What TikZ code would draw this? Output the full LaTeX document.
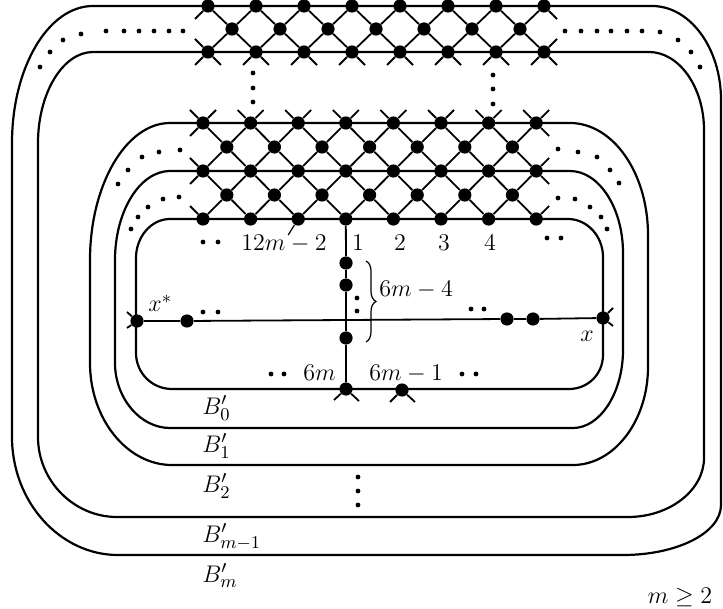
\documentclass[tikz,border=0pt]{standalone}
\usepackage{amsmath,amssymb}
\usepackage{tikz}
\usetikzlibrary{decorations.pathreplacing}

\tikzset{
  vtx/.style={circle,fill=black,inner sep=0pt,minimum size=6.6pt},
  latt/.style={line width=0.9pt},
  band/.style={line width=1.1pt},
  tick/.style={line width=0.6pt},
  lbl/.style={inner sep=0pt,font=\fontsize{12.5}{15}\selectfont},
  curly/.style={decorate,decoration={brace,amplitude=5pt},line width=0.6pt},
}

\begin{document}
\begin{tikzpicture}[x=0.5pt,y=-0.5pt]
\useasboundingbox (0,0) rectangle (723,609);

% the closed curves, innermost first
\draw[band] (170,219) -- (568,219) .. controls (587,219) and (603,236) .. (603,257) -- (603,355) .. controls (603,374) and (588,389) .. (569,389) -- (172,389) .. controls (152,389) and (136,373) .. (136,353) -- (136,258) .. controls (136,237) and (151,219) .. (170,219) -- cycle;
\draw[band] (170,171) -- (570,171) .. controls (599,171) and (623,208) .. (623,253) -- (623,350) .. controls (623,393) and (600,428) .. (573,428) -- (170,428) .. controls (140,428) and (115,398) .. (115,363) -- (115,260) .. controls (115,211) and (140,171) .. (170,171) -- cycle;
\draw[band] (170,123) -- (570,123) .. controls (613,123) and (648,173) .. (648,235) -- (648,367) .. controls (648,421) and (614,465) .. (573,465) -- (172,465) .. controls (127,465) and (90,419) .. (90,363) -- (90,260) .. controls (90,185) and (126,123) .. (170,123) -- cycle;
\draw[band] (93,52) -- (649,52) .. controls (679,52) and (704,87) .. (704,130) -- (704,458) .. controls (704,490) and (670,517) .. (628,517) -- (117,517) .. controls (74,517) and (38,481) .. (38,437) -- (38,143) .. controls (38,93) and (63,52) .. (93,52) -- cycle;
\draw[band] (93,6) -- (652,6) .. controls (690,6) and (721,48) .. (721,100) -- (721,505) .. controls (721,533) and (677,555) .. (623,555) -- (118,555) .. controls (60,555) and (12,502) .. (12,437) -- (12,143) .. controls (12,68) and (48,6) .. (93,6) -- cycle;

% outer lattice
\foreach \k in {0,...,7} {
  \node[vtx] (t0-\k) at ({208+48*\k},6) {};
  \node[vtx] (t2-\k) at ({208+48*\k},52) {};
}
\foreach \k in {0,...,6}
  \node[vtx] (t1-\k) at ({232+48*\k},29) {};
\foreach \k [count=\j from 1] in {0,...,6}
  \draw[latt] (t0-\k) -- (t1-\k) -- (t2-\j) (t0-\j) -- (t1-\k) -- (t2-\k);
\foreach \k in {0,...,7}
  \draw[latt] (t2-\k) -- ++(-13,13) (t2-\k) -- ++(13,13);
\draw[latt] (t0-0) -- ++(-13,13) (t2-0) -- ++(-13,-13) (t0-7) -- ++(13,13) (t2-7) -- ++(13,-13);

% inner lattice
\foreach \r in {0,2,4}
  \foreach \k in {0,...,7}
    \node[vtx] (g\r-\k) at ({203+47.6*\k},{123+24*\r}) {};
\foreach \r in {1,3}
  \foreach \k in {0,...,6}
    \node[vtx] (g\r-\k) at ({226.8+47.6*\k},{123+24*\r}) {};
\foreach \h [evaluate=\h as \hu using int(\h-1), evaluate=\h as \hd using int(\h+1)] in {1,3}
  \foreach \k [count=\j from 1] in {0,...,6}
    \draw[latt] (g\hu-\k) -- (g\h-\k) -- (g\hd-\j) (g\hu-\j) -- (g\h-\k) -- (g\hd-\k);
\foreach \k in {0,...,7}
  \draw[latt] (g0-\k) -- ++(-13,-13) (g0-\k) -- ++(13,-13);
\draw[latt] (g0-0) -- ++(-13,13) (g2-0) -- ++(-13,-13) (g2-0) -- ++(-13,13) (g4-0) -- ++(-13,-13);
\draw[latt] (g0-7) -- ++(13,13) (g2-7) -- ++(13,-13) (g2-7) -- ++(13,13) (g4-7) -- ++(13,-13);

% spine and the x line
\node[vtx] (v1) at (346,263) {};
\node[vtx] (v2) at (346,285) {};
\node[vtx] (v3) at (346,338) {};
\node[vtx] (b1) at (346,389) {};
\node[vtx] (b2) at (402,390) {};
\draw[latt] (g4-3) -- (v1) -- (v2) -- (v3) -- (b1);
\draw[latt] (b1) -- ++(-12,11) (b1) -- ++(13,12) (b2) -- ++(-12,12) (b2) -- ++(13,12);
\node[vtx] (xs) at (137,321) {};
\node[vtx] (h1) at (187,321) {};
\node[vtx] (h2) at (507,319) {};
\node[vtx] (h3) at (533,319) {};
\node[vtx] (xe) at (603,318) {};
\draw[latt] (xs) -- (h1) -- (h2) -- (h3) -- (xe);
\draw[latt] (xs) -- ++(-10,-9) (xs) -- ++(-10,7) (xe) -- ++(10,-10) (xe) -- ++(10,8);

% small dots
\foreach \x/\y in {183/31,169/31,154/31,139/31,124/31,106/31,81/34,63/40,50/52,40/67,
  565/31,581/31,597/31,611/31,627/31,642/31,660/32,678/40,691/52,700/67,
  180/150,159/152,142/157,128/170,118/184,179/197,163/199,148/207,138/217,131/229,
  558/149,578/152,597/157,610/170,619/183,558/198,575/199,590/207,601/217,607/229,
  203/242,218/242,547/238,561/238,203/312,218/312,471/309,484/309,
  271/374,284/374,462/374,476/374,357/298,357/311,358/477,358/491,358/505,
  253/73,253/88,253/102,493/75,493/89,493/104}
  \fill (\x,\y) circle (1.2pt);

% labels
\node[lbl,anchor=base west] (l12) at (241,251) {$12m-2$};
\draw[tick] (g4-2) -- ++(-10,16);
\node[lbl,anchor=base] (n1) at (358,251) {$1$};
\node[lbl,anchor=base] (n2) at (400,251) {$2$};
\node[lbl,anchor=base] (n3) at (444,251) {$3$};
\node[lbl,anchor=base] (n4) at (490,251) {$4$};
\draw[curly] ([xshift=10pt,yshift=1pt]v1.center) -- ([xshift=10pt,yshift=-2pt]v3.center);
\node[lbl,anchor=base west] (n64) at (379,297) {$6m-4$};
\node[lbl,anchor=base west] (xst) at (148,312) {$x^*$};
\node[lbl,anchor=base] (xl) at (587,342) {$x$};
\node[lbl,anchor=base east] (n6) at (336,380) {$6m$};
\node[lbl,anchor=base west] (n61) at (369,380) {$6m-1$};
\node[lbl,anchor=base west] (bb0) at (202,414) {$B'_0$};
\node[lbl,anchor=base west] (bb1) at (202,452) {$B'_1$};
\node[lbl,anchor=base west] (bb2) at (202,492) {$B'_2$};
\node[lbl,anchor=base west] (bb3) at (202,542) {$B'_{m-1}$};
\node[lbl,anchor=base west] (bb4) at (202,582) {$B'_m$};
\node[lbl,anchor=base] (mge) at (680,603) {$m\geq 2$};
\end{tikzpicture}
\end{document}
